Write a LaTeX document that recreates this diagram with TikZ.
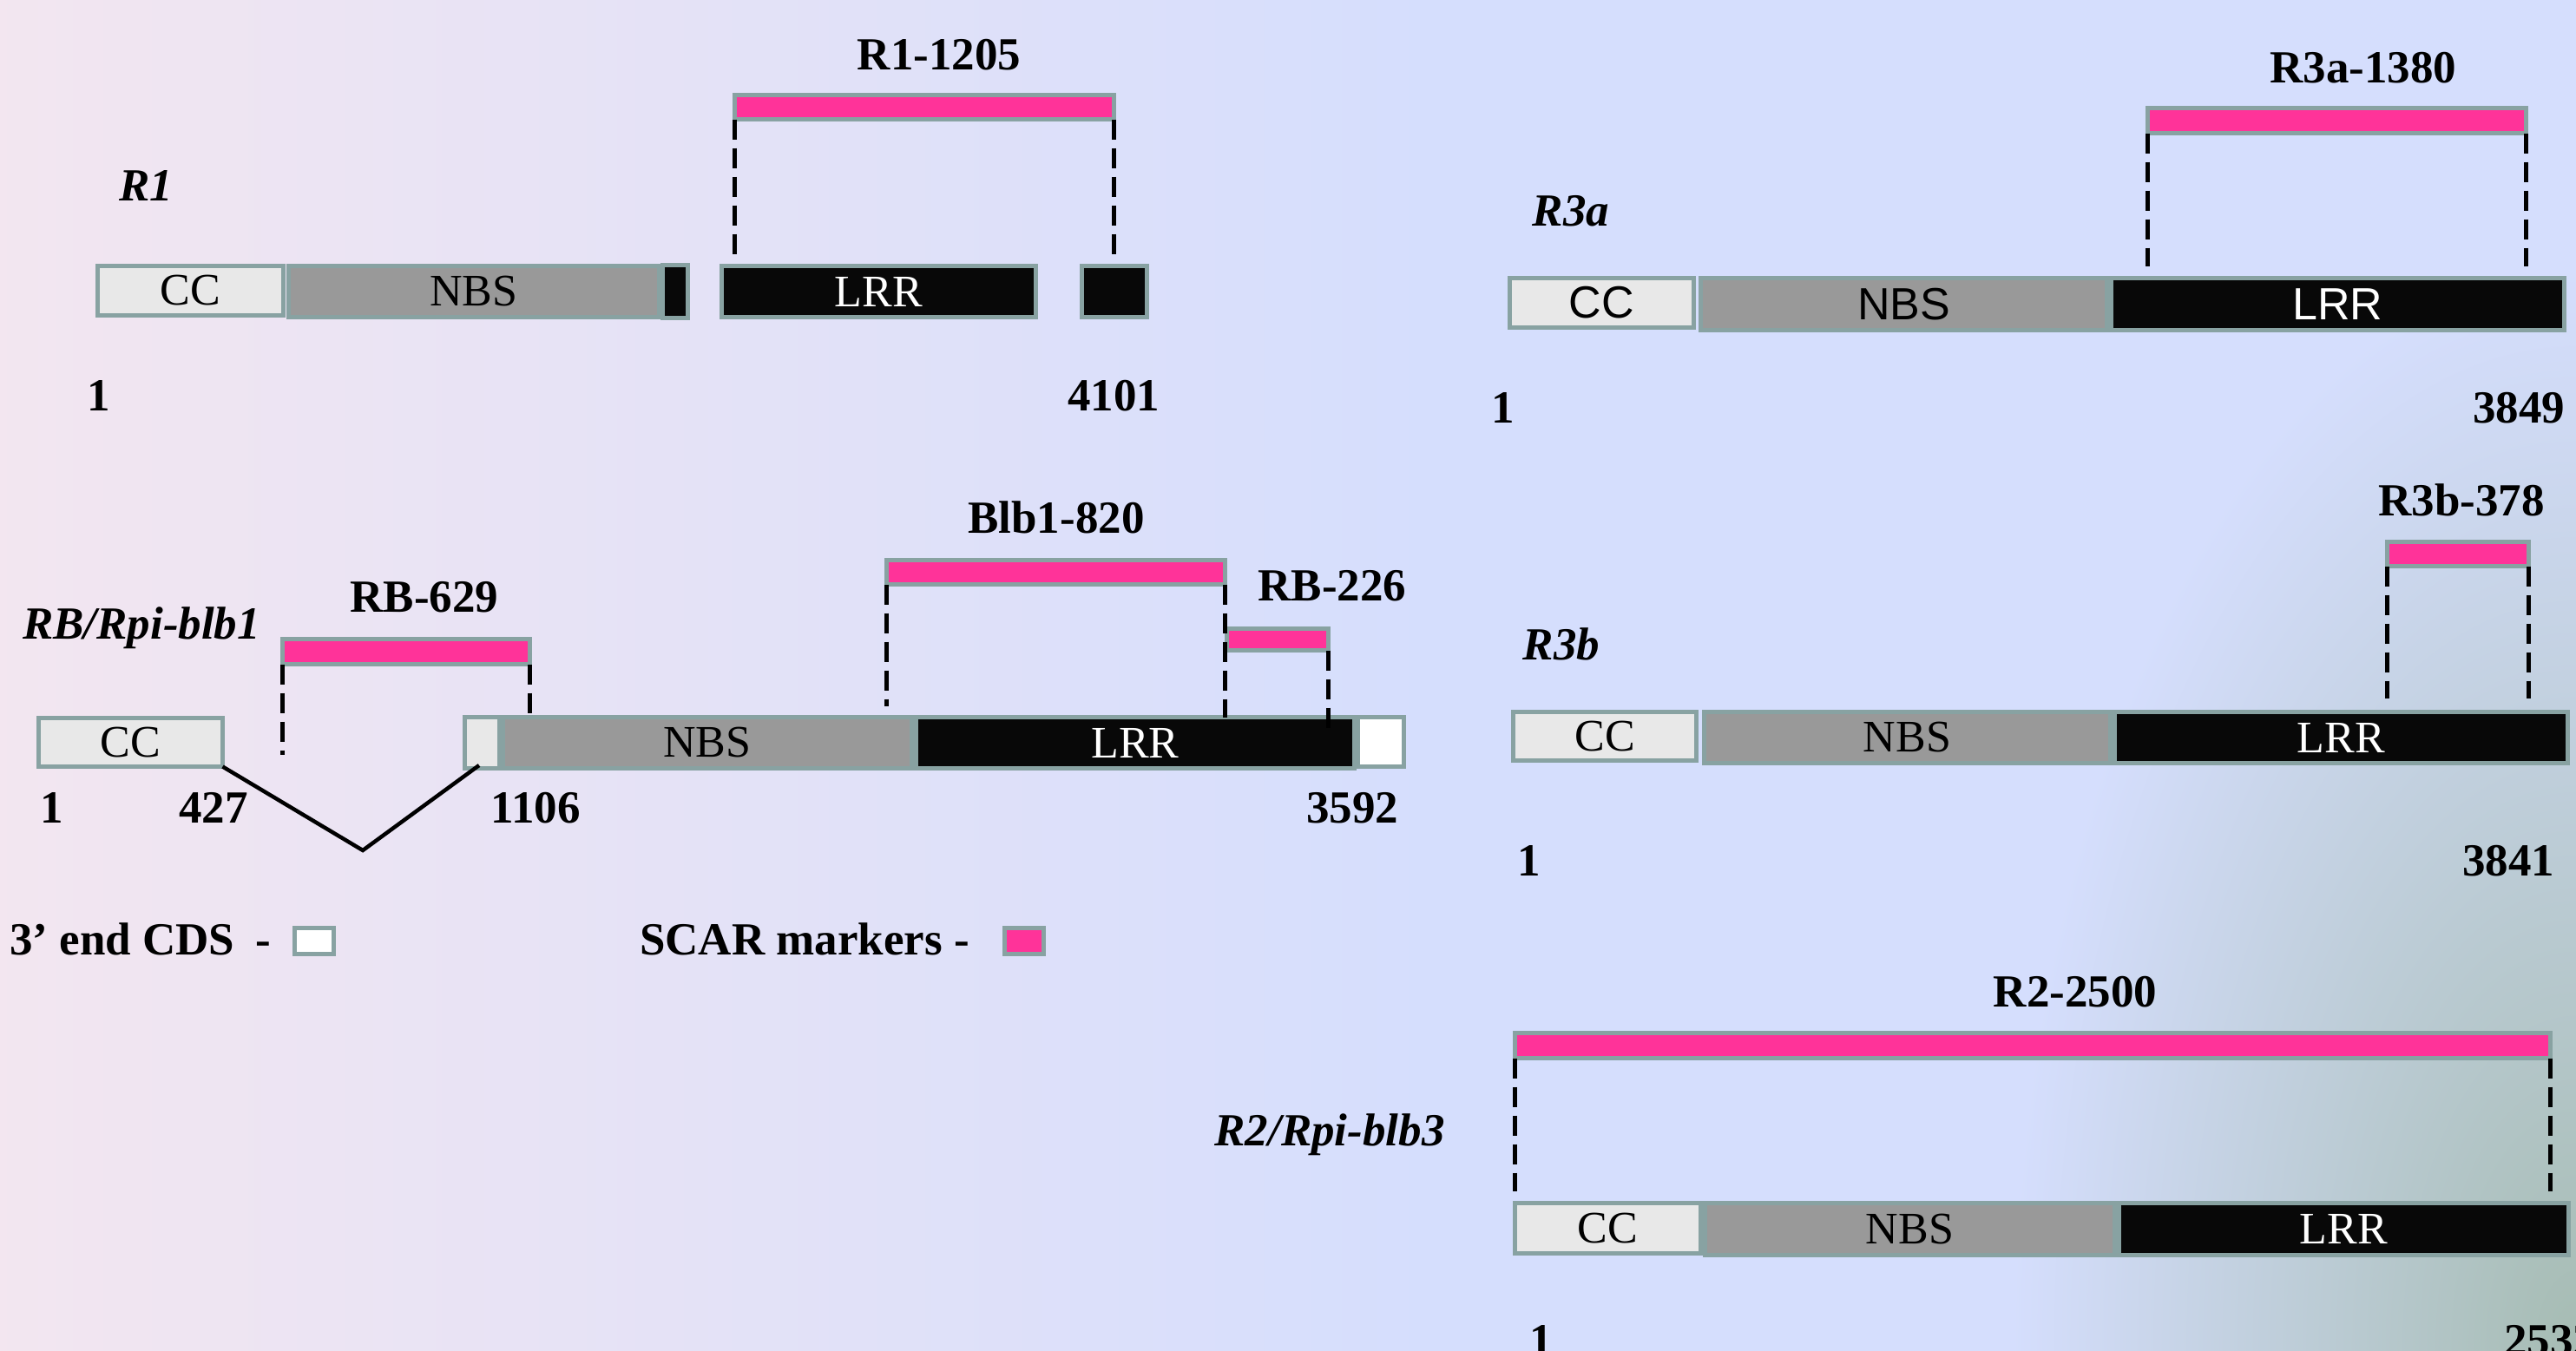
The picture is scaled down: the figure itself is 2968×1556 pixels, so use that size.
\documentclass[tikz,border=0pt]{standalone}
\usepackage{fontspec}
\setmainfont{Liberation Serif}
\newfontfamily\arialfam{Liberation Sans}

\definecolor{bgpink}{HTML}{F3E6F0}
\definecolor{bgblue}{HTML}{D5DEFD}
\definecolor{cornergray}{HTML}{A6BCB3}
\definecolor{edge}{HTML}{88A2A2}
\definecolor{ccfill}{HTML}{E8E8E8}
\definecolor{nbsfill}{HTML}{999999}
\definecolor{lrrfill}{HTML}{080808}
\definecolor{scarpink}{HTML}{FF3399}

\newcommand\boxsz{\fontsize{52}{60}\selectfont}
\newcommand\mklabelfont{\fontsize{53}{60}\selectfont\bfseries}
\newcommand\mkgenefont{\fontsize{53}{60}\selectfont\bfseries\itshape}

\tikzset{
  dom/.style={draw=edge, line width=5pt, inner sep=0pt, outer sep=0pt, font=\boxsz},
  ccbox/.style={dom, fill=ccfill},
  nbsbox/.style={dom, fill=nbsfill},
  lrrbox/.style={dom, fill=lrrfill, text=white},
  endbox/.style={dom, fill=white},
  scar/.style={dom, fill=scarpink},
  sans/.style={font=\arialfam\boxsz},
  span/.style n args={4}{at={({(#1+#2)/2},{(#3+#4)/2})},
    minimum width={#2-#1-5}, minimum height={#4-#3-5}},
  guide/.style={line width=4.5pt, dash pattern=on 23pt off 10pt},
  intron/.style={line width=4.5pt, line join=miter},
  lbl/.style={font=\mklabelfont, anchor=base, inner sep=0pt},
  gene/.style={font=\mkgenefont, anchor=base, inner sep=0pt},
}

\begin{document}
\begin{tikzpicture}[x=1pt, y=-1pt]
\useasboundingbox (0,0) rectangle (2968,1556);

% background: pink to blue, greyish towards the lower right corner
\fill[left color=bgpink, right color=bgblue] (-20,-20) rectangle (1650,1580);
\fill[bgblue] (1649,-20) rectangle (2990,1580);
\begin{scope}
  \clip (-20,-20) rectangle (2990,1580);
  \shade[inner color=cornergray, outer color=bgblue]
    (2968,1556) ellipse [x radius=650, y radius=1250];
\end{scope}

% ---------- R1 ----------
\node[ccbox,  span={110}{329}{304}{366}] (r1cc) {CC};
\node[nbsbox, span={330}{762}{304}{368}] (r1nbs) {NBS};
\node[lrrbox, span={761}{795}{303}{369}] (r1k) {};
\node[lrrbox, span={829}{1196}{304}{368}] (r1lrr) {LRR};
\node[lrrbox, span={1244}{1324}{304}{368}] (r1end) {};
\node[scar,   span={844}{1286}{107}{140}] (r1m) {};
\coordinate (r1lo) at (0,293);
\draw[guide] (r1m.south west) -- (r1m.south west |- r1lo);
\draw[guide] (r1m.south east) -- (r1m.south east |- r1lo);
\node[gene] (r1name) at (168,231) {R1};
\node[lbl] (r1mk) at (1082,80) {R1-1205};
\node[lbl] (r1s) at (114,473) {1};
\node[lbl] (r1e) at (1283,473) {4101};

% ---------- R3a ----------
\node[ccbox,  sans, span={1737}{1954}{318}{380}] (r3acc) {CC};
\node[nbsbox, sans, span={1957}{2430}{318}{383}] (r3anbs) {NBS};
\node[lrrbox, sans, span={2430}{2957}{318}{383}] (r3alrr) {LRR};
\node[scar, span={2472}{2913}{122}{156}] (r3am) {};
\coordinate (r3alo) at (0,307);
\draw[guide] (r3am.south west) -- (r3am.south west |- r3alo);
\draw[guide] (r3am.south east) -- (r3am.south east |- r3alo);
\node[gene] (r3aname) at (1810,260) {R3a};
\node[lbl] (r3amk) at (2723,95) {R3a-1380};
\node[lbl] (r3as) at (1732,487) {1};
\node[lbl] (r3ae) at (2902,487) {3849};

% ---------- RB / Rpi-blb1 ----------
\node[ccbox,  span={42}{259}{825}{886}] (rbcc) {CC};
\node[ccbox,  span={533}{578}{824}{888}] (rbe2) {};
\node[nbsbox, span={577}{1053}{824}{888}] (rbnbs) {NBS};
\node[lrrbox, span={1053}{1563}{824}{888}] (rblrr) {LRR};
\node[endbox, span={1562}{1620}{824}{886}] (rbend) {};
\coordinate (rbv) at (418,980);
\coordinate (rbj) at (552,882);
\draw[intron] (rbcc.south east) -- (rbv) -- (rbj);
\node[scar, span={323}{613}{734}{768}] (rb629) {};
\node[scar, span={1019}{1414}{643}{676}] (rb820) {};
\node[scar, span={1411}{1533}{722}{752}] (rb226) {};
\coordinate (rblo1) at (0,870);
\coordinate (rblo2) at (0,827);
\coordinate (rblo3) at (0,814);
\coordinate (rblo4) at (0,846);
\draw[guide] (rb629.south west) -- (rb629.south west |- rblo1);
\draw[guide] (rb629.south east) -- (rb629.south east |- rblo2);
\draw[guide] (rb820.south west) -- (rb820.south west |- rblo3);
\draw[guide] (rb820.south east) -- (rb820.south east |- rblo2);
\draw[guide] (rb226.south east) -- (rb226.south east |- rblo4);
\node[gene] (rbname) at (163,736) {RB/Rpi-blb1};
\node[lbl] (rb629t) at (489,705) {RB-629};
\node[lbl] (rb820t) at (1217,614) {Blb1-820};
\node[lbl] (rb226t) at (1535,692) {RB-226};
\node[lbl] (rbn1) at (60,948) {1};
\node[lbl] (rbn2) at (246,948) {427};
\node[lbl] (rbn3) at (617,948) {1106};
\node[lbl] (rbn4) at (1558,948) {3592};

% legend
\node[lbl, anchor=base west] (lg1) at (11,1100) {3’ end CDS};
\node[lbl] (lg1d) at (303,1100) {-};
\node[endbox, span={337}{387}{1067}{1102}] (lg1b) {};
\node[lbl, anchor=base west] (lg2) at (737,1100) {SCAR markers -};
\node[scar, span={1155}{1205}{1067}{1102}] (lg2b) {};

% ---------- R3b ----------
\node[ccbox,  span={1741}{1957}{818}{879}] (r3bcc) {CC};
\node[nbsbox, span={1961}{2434}{818}{882}] (r3bnbs) {NBS};
\node[lrrbox, span={2434}{2961}{818}{882}] (r3blrr) {LRR};
\node[scar, span={2748}{2916}{622}{655}] (r3bm) {};
\coordinate (r3blo) at (0,805);
\draw[guide] (r3bm.south west) -- (r3bm.south west |- r3blo);
\draw[guide] (r3bm.south east) -- (r3bm.south east |- r3blo);
\node[gene] (r3bname) at (1799,760) {R3b};
\node[lbl] (r3bmk) at (2836,594) {R3b-378};
\node[lbl] (r3bs) at (1762,1009) {1};
\node[lbl] (r3be) at (2890,1009) {3841};

% ---------- R2 / Rpi-blb3 ----------
\node[ccbox,  span={1743}{1962}{1384}{1447}] (r2cc) {CC};
\node[nbsbox, span={1962}{2439}{1384}{1449}] (r2nbs) {NBS};
\node[lrrbox, span={2439}{2962}{1384}{1449}] (r2lrr) {LRR};
\node[scar, span={1743}{2941}{1188}{1222}] (r2m) {};
\coordinate (r2lo) at (0,1373);
\draw[guide] (r2m.south west) -- (r2m.south west |- r2lo);
\draw[guide] (r2m.south east) -- (r2m.south east |- r2lo);
\node[gene] (r2name) at (1532,1320) {R2/Rpi-blb3};
\node[lbl] (r2mk) at (2391,1160) {R2-2500};
\node[lbl] (r2s) at (1776,1562) {1};
\node[lbl, anchor=base west] (r2e) at (2885,1562) {2532};
\end{tikzpicture}
\end{document}
